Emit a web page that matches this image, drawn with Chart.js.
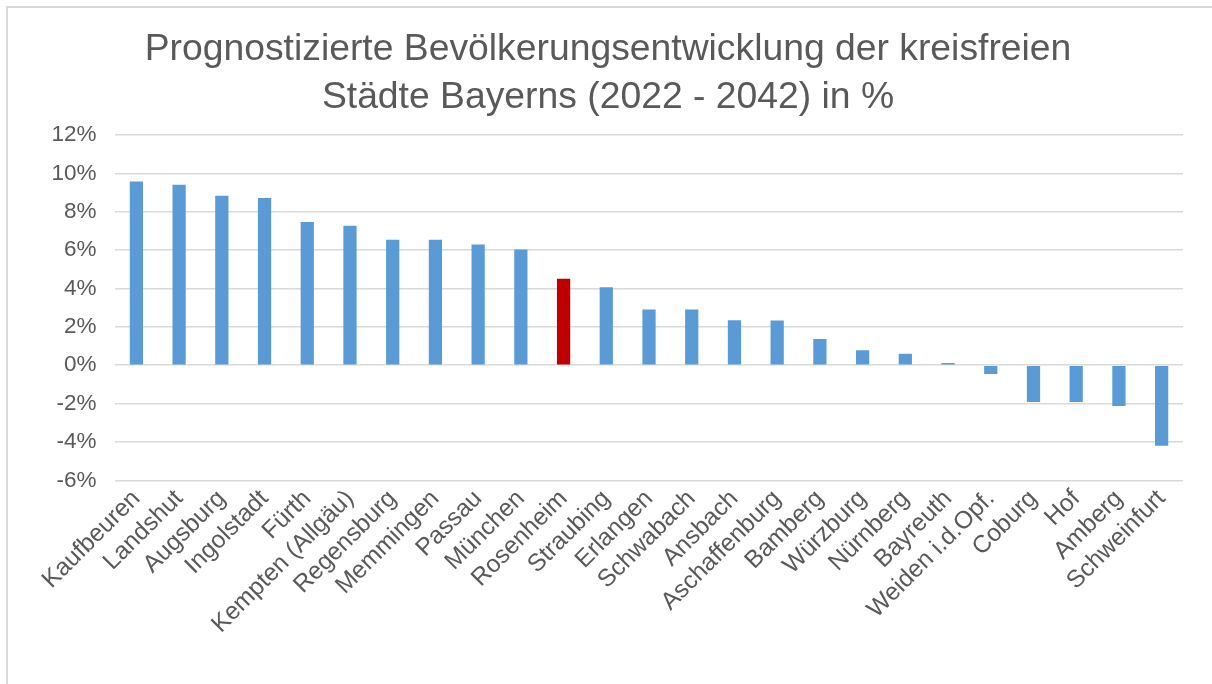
<!DOCTYPE html>
<html>
<head>
<meta charset="utf-8">
<script src="https://cdn.jsdelivr.net/npm/chart.js@4"></script>
<style>
  html, body { margin: 0; padding: 0; background: #fff; }
  #wrap { position: relative; width: 1212px; height: 684px; overflow: hidden; }
  #frame { position: absolute; left: 6px; top: 6px; width: 1220px; height: 700px; border: 2px solid #d9d9d9; box-sizing: border-box; }
  #chart { position: absolute; left: 0; top: 0; }
</style>
</head>
<body>
<div id="wrap">
  <div id="frame"></div>
  <canvas id="chart" width="1212" height="684"></canvas>
</div>
<script>
// data
var cities = ['Kaufbeuren', 'Landshut', 'Augsburg', 'Ingolstadt', 'Fürth', 'Kempten (Allgäu)', 'Regensburg',
    'Memmingen', 'Passau', 'München', 'Rosenheim', 'Straubing', 'Erlangen', 'Schwabach', 'Ansbach',
    'Aschaffenburg', 'Bamberg', 'Würzburg', 'Nürnberg', 'Bayreuth', 'Weiden i.d.Opf.', 'Coburg', 'Hof',
    'Amberg', 'Schweinfurt'];
var growth = [9.58, 9.41, 8.83, 8.71, 7.47, 7.27, 6.54, 6.54, 6.29, 6.03, 4.51, 4.06, 2.91, 2.91, 2.35,
    2.33, 1.37, 0.78, 0.6, 0.12, -0.46, -1.92, -1.92, -2.12, -4.2];
var highlight = 'Rosenheim';
var titleLines = ['Prognostizierte Bevölkerungsentwicklung der kreisfreien', 'Städte Bayerns (2022 - 2042) in %'];

var barColors = cities.map(function (c) {
    return c === highlight ? '#c00000' : '#5b9bd5';
});

Chart.defaults.font.family = '"Liberation Sans", Arial, sans-serif';
Chart.defaults.color = '#595959';

const ctx = document.getElementById('chart');
new Chart(ctx, {
    type: 'bar',
    data: {
        labels: cities,
        datasets: [{
            data: growth,
            backgroundColor: barColors,
            borderWidth: 0,
            barPercentage: 0.31,
            categoryPercentage: 1
        }]
    },
    options: {
        responsive: false,
        animation: false,
        layout: {
            padding: { left: 33, right: 29, top: 12, bottom: 41 }
        },
        plugins: {
            legend: { display: false },
            tooltip: { enabled: false },
            title: {
                display: true,
                text: titleLines,
                color: '#595959',
                font: { size: 37.3, weight: 'normal', lineHeight: 1.3 },
                padding: { top: 13, bottom: 13 }
            }
        },
        scales: {
            y: {
                min: -6,
                max: 12,
                ticks: {
                    stepSize: 2,
                    padding: 18.5,
                    font: { size: 22.5 },
                    color: '#595959',
                    callback: function (v) { return v + '%'; }
                },
                grid: { color: '#d9d9d9', lineWidth: 1.5, drawTicks: false },
                border: { display: false }
            },
            x: {
                ticks: {
                    autoSkip: false,
                    maxRotation: 45,
                    minRotation: 45,
                    padding: 4,
                    font: { size: 24.5 },
                    color: '#595959'
                },
                grid: { display: false, drawTicks: false },
                border: { display: false }
            }
        }
    }
});
</script>
</body>
</html>
